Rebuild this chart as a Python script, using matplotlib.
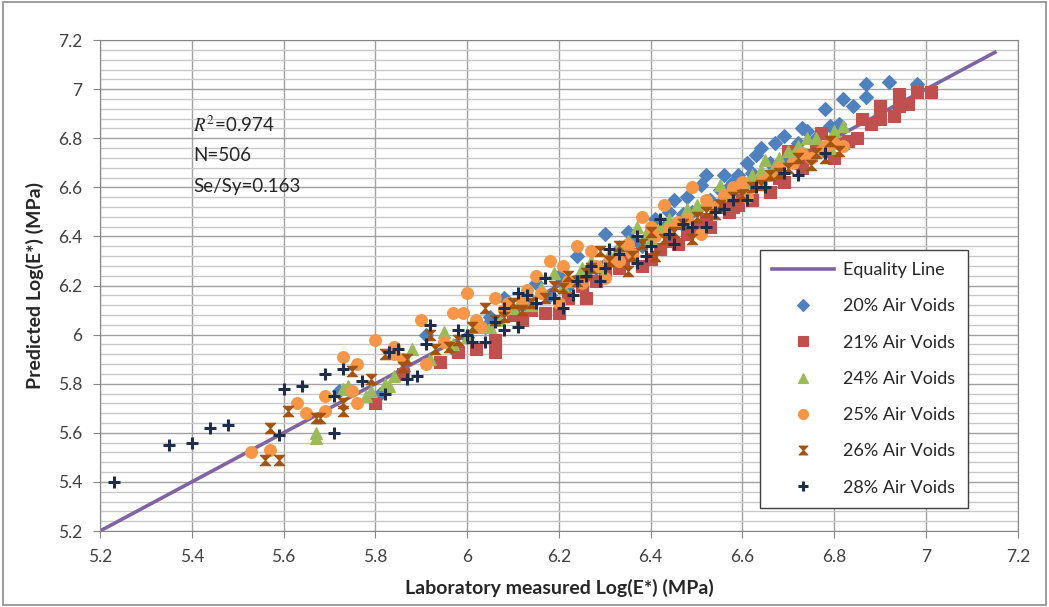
import numpy as np
import matplotlib
matplotlib.use("Agg")
import matplotlib.pyplot as plt
from matplotlib.path import Path
from matplotlib.patches import Rectangle

plt.rcParams['font.family'] = ['Lato', 'DejaVu Sans']
plt.rcParams['mathtext.fontset'] = 'stix'

# (measured, predicted) Log(E*) pairs, per air-void group
av20 = [(5.72, 5.77), (5.81, 5.76), (5.91, 6.00), (6.00, 5.99), (6.04, 6.03), (6.08, 6.15),
        (6.12, 6.12), (6.15, 6.21), (6.18, 6.16), (6.22, 6.20), (6.24, 6.32), (6.28, 6.27),
        (6.30, 6.41), (6.33, 6.35), (6.36, 6.38), (6.40, 6.42), (6.43, 6.44), (6.45, 6.55),
        (6.47, 6.49), (6.51, 6.61), (6.52, 6.65), (6.53, 6.55), (6.56, 6.65), (6.59, 6.65),
        (6.60, 6.58), (6.63, 6.73), (6.64, 6.76), (6.67, 6.78), (6.69, 6.81), (6.70, 6.72),
        (6.73, 6.84), (6.74, 6.83), (6.78, 6.92), (6.79, 6.85), (6.82, 6.96), (6.84, 6.93),
        (6.87, 7.02), (6.87, 6.97), (6.92, 7.03), (6.98, 7.02), (6.55, 6.59), (6.62, 6.66),
        (6.38, 6.36), (5.97, 5.94), (5.86, 5.85), (6.26, 6.24), (6.49, 6.50), (6.58, 6.62),
        (6.05, 6.07), (6.10, 6.10), (6.20, 6.24), (6.32, 6.30), (6.35, 6.42), (6.41, 6.47),
        (6.44, 6.50), (6.48, 6.56), (6.57, 6.60), (6.61, 6.70), (6.66, 6.70), (6.72, 6.78),
        (6.76, 6.80), (6.81, 6.86)]
av21 = [(5.80, 5.72), (5.86, 5.84), (5.94, 5.89), (5.98, 5.93), (6.02, 5.94), (6.06, 5.93),
        (6.06, 5.98), (6.10, 6.08), (6.14, 6.10), (6.17, 6.09), (6.20, 6.09), (6.22, 6.15),
        (6.26, 6.15), (6.30, 6.26), (6.34, 6.30), (6.38, 6.28), (6.40, 6.31), (6.44, 6.38),
        (6.46, 6.37), (6.50, 6.44), (6.53, 6.44), (6.55, 6.52), (6.59, 6.53), (6.62, 6.55),
        (6.66, 6.58), (6.69, 6.62), (6.70, 6.75), (6.72, 6.70), (6.75, 6.73), (6.77, 6.82),
        (6.78, 6.75), (6.80, 6.72), (6.82, 6.78), (6.83, 6.79), (6.86, 6.88), (6.88, 6.86),
        (6.90, 6.93), (6.90, 6.88), (6.93, 6.89), (6.94, 6.98), (6.94, 6.93), (6.96, 6.94),
        (6.98, 6.99), (7.01, 6.99), (6.64, 6.64), (6.48, 6.41), (6.12, 6.06), (6.25, 6.20),
        (6.28, 6.22), (6.33, 6.27), (6.42, 6.35), (6.52, 6.47), (6.57, 6.50), (6.60, 6.58),
        (6.68, 6.64), (6.73, 6.68), (6.76, 6.76), (6.85, 6.80), (6.58, 6.52), (6.36, 6.33)]
av24 = [(5.67, 5.58), (5.67, 5.60), (5.73, 5.78), (5.74, 5.79), (5.78, 5.75), (5.82, 5.80),
        (5.83, 5.79), (5.84, 5.83), (5.88, 5.94), (5.95, 6.01), (5.97, 5.96), (6.02, 6.03),
        (6.07, 6.06), (6.12, 6.15), (6.16, 6.19), (6.19, 6.25), (6.23, 6.22), (6.27, 6.30),
        (6.31, 6.33), (6.35, 6.38), (6.37, 6.44), (6.40, 6.39), (6.44, 6.47), (6.48, 6.51),
        (6.52, 6.55), (6.55, 6.61), (6.58, 6.60), (6.61, 6.62), (6.62, 6.65), (6.65, 6.71),
        (6.68, 6.72), (6.70, 6.75), (6.72, 6.77), (6.74, 6.80), (6.76, 6.80), (6.80, 6.83),
        (6.82, 6.85), (6.79, 6.76), (5.92, 5.90), (6.10, 6.11), (6.00, 5.99), (6.05, 6.03),
        (6.14, 6.12), (6.21, 6.20), (6.25, 6.27), (6.29, 6.28), (6.33, 6.36), (6.39, 6.41),
        (6.42, 6.44), (6.46, 6.46), (6.50, 6.53), (6.57, 6.58), (6.64, 6.67), (6.67, 6.69),
        (6.71, 6.73), (5.79, 5.77)]
av25 = [(5.53, 5.52), (5.57, 5.53), (5.63, 5.72), (5.65, 5.68), (5.69, 5.75), (5.69, 5.69),
        (5.73, 5.91), (5.75, 5.77), (5.76, 5.88), (5.76, 5.72), (5.80, 5.98), (5.84, 5.95),
        (5.84, 5.92), (5.86, 5.90), (5.90, 6.06), (5.91, 5.88), (5.95, 5.97), (5.97, 6.09),
        (5.99, 6.09), (6.00, 6.17), (6.03, 6.03), (6.06, 6.15), (6.08, 6.10), (6.12, 6.14),
        (6.15, 6.24), (6.18, 6.30), (6.21, 6.28), (6.24, 6.36), (6.27, 6.34), (6.25, 6.21),
        (6.30, 6.23), (6.33, 6.30), (6.38, 6.48), (6.41, 6.40), (6.43, 6.53), (6.46, 6.46),
        (6.49, 6.60), (6.51, 6.41), (6.54, 6.52), (6.58, 6.60), (6.61, 6.56), (6.64, 6.62),
        (6.68, 6.68), (6.71, 6.70), (6.75, 6.72), (6.78, 6.77), (6.80, 6.78), (6.82, 6.77),
        (6.36, 6.33), (6.20, 6.13), (6.02, 6.06), (6.09, 6.13), (6.13, 6.18), (6.16, 6.17),
        (6.22, 6.22), (6.28, 6.28), (6.31, 6.30), (6.35, 6.37), (6.40, 6.44), (6.44, 6.43),
        (6.48, 6.47), (6.52, 6.55), (6.56, 6.57), (6.60, 6.62), (6.66, 6.65), (6.73, 6.74),
        (6.77, 6.75)]
av26 = [(5.56, 5.49), (5.59, 5.49), (5.57, 5.62), (5.61, 5.69), (5.67, 5.66), (5.68, 5.66),
        (5.73, 5.69), (5.73, 5.72), (5.75, 5.85), (5.79, 5.82), (5.82, 5.92), (5.86, 5.87),
        (5.87, 5.90), (5.92, 6.00), (5.93, 5.94), (5.96, 5.95), (6.01, 6.03), (6.04, 6.11),
        (6.08, 6.07), (6.10, 6.13), (6.14, 6.13), (6.17, 6.15), (6.21, 6.19), (6.24, 6.22),
        (6.27, 6.27), (6.29, 6.34), (6.33, 6.36), (6.35, 6.26), (6.36, 6.32), (6.40, 6.42),
        (6.41, 6.32), (6.43, 6.39), (6.47, 6.45), (6.49, 6.39), (6.52, 6.50), (6.55, 6.53),
        (6.58, 6.56), (6.62, 6.60), (6.66, 6.65), (6.70, 6.68), (6.75, 6.69), (6.78, 6.72),
        (6.81, 6.75), (6.79, 6.79), (5.98, 5.98), (6.06, 6.06), (6.12, 6.10), (6.19, 6.20),
        (6.22, 6.24), (6.26, 6.25), (6.31, 6.30), (6.38, 6.37), (6.45, 6.42), (6.50, 6.48),
        (6.54, 6.49), (6.60, 6.57), (6.64, 6.61), (6.68, 6.66), (6.72, 6.72), (6.76, 6.74)]
av28 = [(5.23, 5.40), (5.35, 5.55), (5.40, 5.56), (5.44, 5.62), (5.48, 5.63), (5.59, 5.59),
        (5.60, 5.78), (5.64, 5.79), (5.69, 5.84), (5.71, 5.75), (5.71, 5.60), (5.73, 5.86),
        (5.77, 5.81), (5.82, 5.76), (5.83, 5.93), (5.85, 5.94), (5.87, 5.82), (5.89, 5.83),
        (5.91, 5.96), (5.92, 6.04), (5.98, 6.02), (6.01, 5.97), (6.04, 5.97), (6.08, 6.02),
        (6.08, 6.11), (6.11, 6.03), (6.11, 6.17), (6.13, 6.16), (6.17, 6.23), (6.19, 6.15),
        (6.21, 6.11), (6.23, 6.16), (6.26, 6.24), (6.27, 6.28), (6.29, 6.22), (6.30, 6.27),
        (6.31, 6.35), (6.37, 6.29), (6.37, 6.40), (6.39, 6.32), (6.40, 6.36), (6.42, 6.47),
        (6.44, 6.41), (6.45, 6.37), (6.49, 6.44), (6.52, 6.44), (6.56, 6.51), (6.61, 6.55),
        (6.65, 6.60), (6.72, 6.65), (6.78, 6.74), (6.00, 6.00), (6.06, 6.05), (6.15, 6.13),
        (6.24, 6.22), (6.33, 6.33), (6.47, 6.45), (6.54, 6.50), (6.58, 6.55), (6.63, 6.60),
        (6.69, 6.66)]

equality_x = [5.2, 7.15]
labels = ["20% Air Voids", "21% Air Voids", "24% Air Voids",
          "25% Air Voids", "26% Air Voids", "28% Air Voids"]
stats = ["$R^2$=0.974", "N=506", "Se/Sy=0.163"]

# hourglass marker like Excel's star at small size
hourglass = Path([(-1, 1), (1, 1), (-1, -1), (1, -1), (-1, 1)],
                 [Path.MOVETO, Path.LINETO, Path.LINETO, Path.LINETO, Path.CLOSEPOLY])

series = [
    (av20, "D", "#4F81BD", 7.0),
    (av21, "s", "#C0504D", 8.0),
    (av24, "^", "#9BBB59", 8.0),
    (av25, "o", "#F79646", 8.5),
    (av26, hourglass, "#A3520F", 7.5),
    (av28, "+", "#1F2D4D", 8.5),
]

fig = plt.figure(figsize=(10.49, 6.07), dpi=100)
ax = fig.add_axes([0.0953, 0.1252, 0.875, 0.8088])

grid_major = "#A0A0A0"
grid_minor = "#C8C8C8"

ax.plot(equality_x, equality_x, color="#8064A2", lw=2.6, label="Equality Line", zorder=2)

for (data, mk, col, ms), lab in zip(series, labels):
    pts = np.array(data)
    if mk == "+":
        ax.plot(pts[:, 0], pts[:, 1], ls="none", marker=mk, ms=ms, mew=2.2,
                color=col, label=lab, zorder=3)
    else:
        ax.plot(pts[:, 0], pts[:, 1], ls="none", marker=mk, ms=ms, mew=0.8,
                color=col, label=lab, zorder=3)

ax.set_xlim(5.2, 7.2)
ax.set_ylim(5.2, 7.2)
ax.set_xticks(np.arange(5.2, 7.21, 0.2))
ax.set_yticks(np.arange(5.2, 7.21, 0.2))
ax.set_yticks(np.arange(5.2, 7.21, 0.04), minor=True)
ax.set_xticklabels(["5.2", "5.4", "5.6", "5.8", "6", "6.2", "6.4", "6.6", "6.8", "7", "7.2"])
ax.set_yticklabels(["5.2", "5.4", "5.6", "5.8", "6", "6.2", "6.4", "6.6", "6.8", "7", "7.2"])

ax.grid(True, which="major", color=grid_major, lw=1.0, zorder=0)
ax.grid(True, which="minor", axis="y", color=grid_minor, lw=1.0, zorder=0)
ax.set_axisbelow(True)
ax.tick_params(which="major", direction="out", length=5, color="#868686",
               labelsize=12.5, labelcolor="#404040", pad=8)
ax.tick_params(which="minor", length=0)
for sp in ax.spines.values():
    sp.set_color("#868686")

ax.set_xlabel("Laboratory measured Log(E*) (MPa)", fontsize=14, fontweight="bold",
              color="#262626", labelpad=10)
ax.set_ylabel("Predicted Log(E*) (MPa)", fontsize=14, fontweight="bold",
              color="#262626", labelpad=10)

for txt, yv in zip(stats, [6.854, 6.73, 6.605]):
    ax.text(5.403, yv, txt, fontsize=13.5, va="center", ha="left", color="#262626")

leg = ax.legend(loc="lower right", bbox_to_anchor=(0.955, 0.028), fontsize=13,
                frameon=True, fancybox=False, framealpha=1, edgecolor="#404040",
                labelspacing=1.12, handlelength=3.4, borderpad=0.7, handletextpad=0.5,
                markerscale=0.85)
leg.get_frame().set_linewidth(1.0)
for t in leg.get_texts():
    t.set_color("#262626")

fig.patches.append(Rectangle((0.003, 0.004), 0.994, 0.992, transform=fig.transFigure,
                             fill=False, edgecolor="#8C8C8C", lw=1.2))

fig.savefig("out.png", dpi=100)
